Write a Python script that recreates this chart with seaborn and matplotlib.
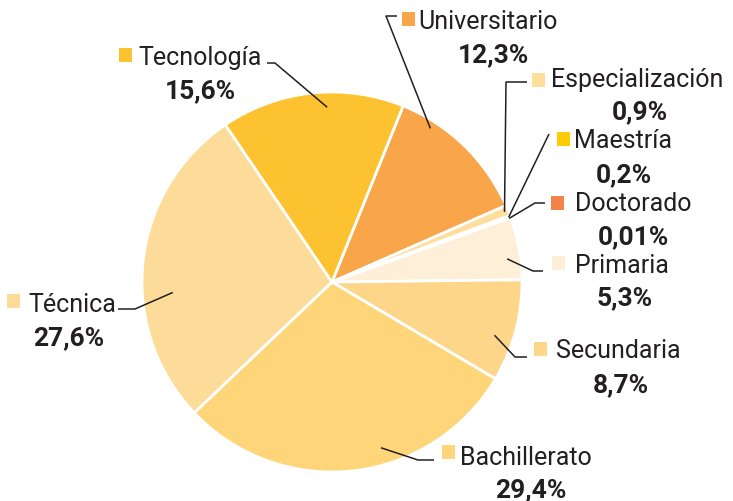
import numpy as np
import matplotlib
matplotlib.use("Agg")
import matplotlib.pyplot as plt
import seaborn as sns
from matplotlib.patches import Rectangle

# --- DATA ---
labels = ['Universitario', 'Especialización', 'Maestría', 'Doctorado', 'Primaria',
          'Secundaria', 'Bachillerato', 'Técnica', 'Tecnología']
values = [12.3, 0.9, 0.2, 0.01, 5.3, 8.7, 29.4, 27.6, 15.6]
pct_text = ['12,3%', '0,9%', '0,2%', '0,01%', '5,3%', '8,7%', '29,4%', '27,6%', '15,6%']
colors = ['#F9A54A', '#FDDE9C', '#FFCB05', '#F4834A', '#FEEFD8',
          '#FDD689', '#FED579', '#FDDC99', '#FDC22F']

# --- LAYOUT (pixel-like coords, y up) ---
W, H = 733, 501
CX, CY, R = 332, H - 282, 190
START = 68

# (square x, square top, name x, name baseline, pct center x, pct baseline) top-down pixels
label_pos = {
    'Universitario':   (402, 12, 418, 29, 493, 62),
    'Especialización': (532, 73, 551, 87, 640, 119),
    'Maestría':        (557, 132, 574, 148, 624, 182),
    'Doctorado':       (551, 196, 575, 211, 633, 244),
    'Primaria':        (552, 256, 575, 273, 625, 305),
    'Secundaria':      (534, 342, 556, 358, 621, 392),
    'Bachillerato':    (442, 445, 460, 465, 531, 497),
    'Técnica':         (7, 294, 28, 312, 69, 345),
    'Tecnología':      (119, 48, 138, 65, 200, 98),
}
# leader: (fraction along wedge, radius fraction, elbow xy, end xy) top-down pixels
leaders = {
    'Universitario':   (0.24, 0.96, (386, 16), (397, 16)),
    'Especialización': (0.5, 0.98, (506, 82), (527, 82)),
    'Maestría':        (0.5, 0.99, (549, 134), (549, 134)),
    'Doctorado':       (0.5, 0.99, (535, 203), (545, 203)),
    'Primaria':        (0.64, 0.93, (533, 271), (543, 271)),
    'Secundaria':      (0.6, 0.90, (515, 357), (527, 357)),
    'Bachillerato':    (0.405, 0.91, (418, 460), (434, 460)),
    'Técnica':         (0.4, 0.84, (135, 309), (118, 309)),
    'Tecnología':      (0.58, 0.92, (275, 63), (267, 63)),
}

sns.set_theme(style="white")
plt.rcParams['font.family'] = ['Roboto', 'DejaVu Sans']

fig = plt.figure(figsize=(W / 100, H / 100), dpi=100)
ax = fig.add_axes([0, 0, 1, 1])

wedges, _ = ax.pie(values, colors=colors, startangle=START, counterclock=False,
                   center=(CX, CY), radius=R,
                   wedgeprops=dict(edgecolor='white', linewidth=2))
ax.set_xlim(0, W)
ax.set_ylim(0, H)
ax.set_aspect('equal')
ax.axis('off')

TXT = '#231F20'
for w, lab, pct in zip(wedges, labels, pct_text):
    frac, rf, elbow, end = leaders[lab]
    # counterclock=False -> theta2 is the start side
    ang = np.deg2rad(w.theta2 - frac * (w.theta2 - w.theta1))
    px, py = CX + rf * R * np.cos(ang), CY + rf * R * np.sin(ang)
    ax.plot([px, elbow[0], end[0]], [py, H - elbow[1], H - end[1]],
            color='#231F20', lw=1.1, solid_capstyle='butt')

    sx, sq_top, tx, base, pcx, pbase = label_pos[lab]
    ax.add_patch(Rectangle((sx, H - sq_top - 14), 13, 14, color=w.get_facecolor(), lw=0))
    ax.text(tx, H - base, lab, fontsize=18, color=TXT, va='baseline', ha='left')
    ax.text(pcx, H - pbase, pct, fontsize=19, color=TXT, va='baseline', ha='center',
            fontweight='bold')

plt.savefig('out.png', dpi=100)
